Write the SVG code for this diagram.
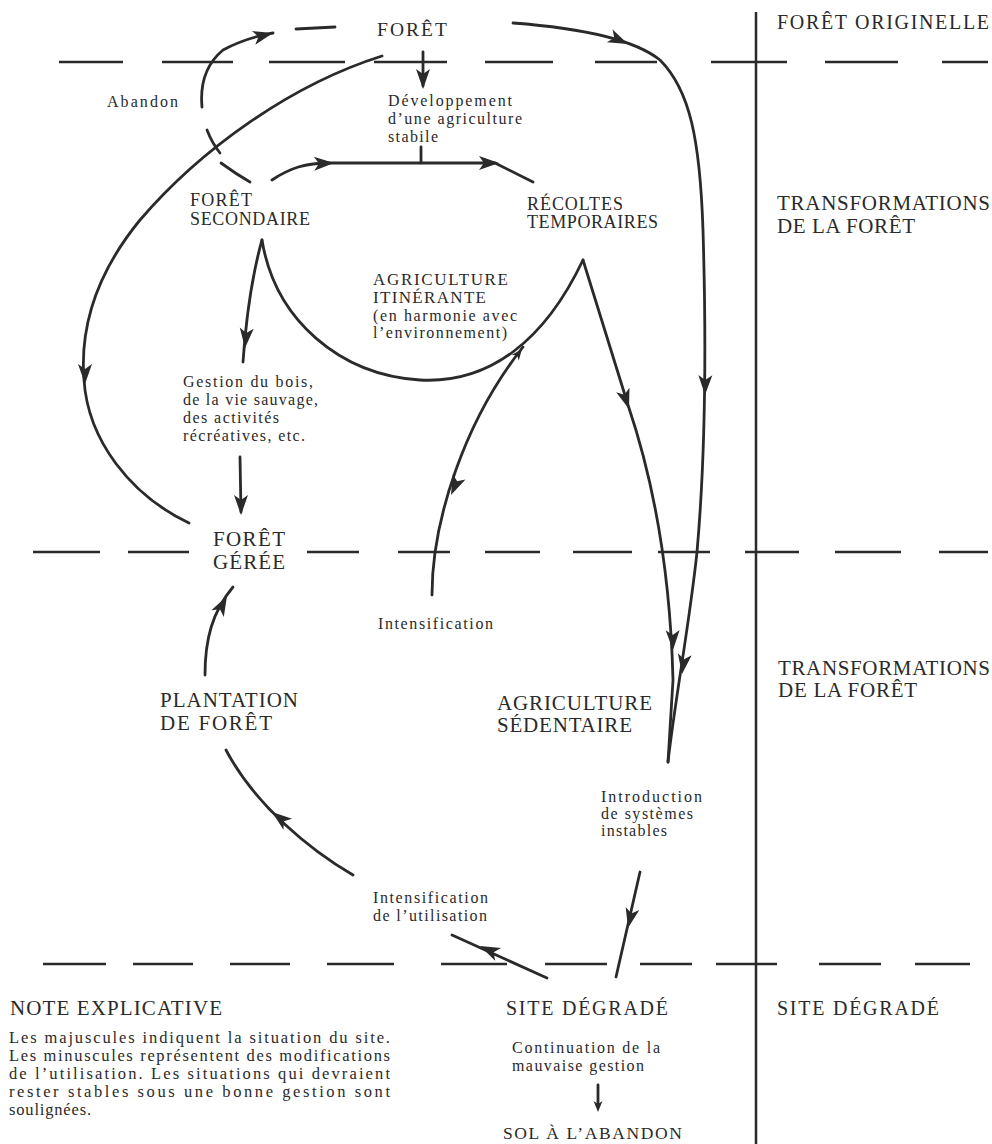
<svg xmlns="http://www.w3.org/2000/svg" xmlns:xlink="http://www.w3.org/1999/xlink" width="992" height="1144" viewBox="0 0 992 1144">
<style>
.ln{stroke:#2a2a2a;fill:none;stroke-width:2.8;stroke-linecap:round;stroke-linejoin:round}
.grid{stroke:#2a2a2a;fill:none;stroke-width:2.5}
.ah{fill:#2a2a2a}
text{font-family:"Liberation Serif","Times New Roman",serif;fill:#2a2a2a}
.s{font-size:16px}
.m{font-size:18px}
.l{font-size:21px}
</style>
<defs>
<path id="ah" d="M0 0 L-20 -7 L-15 0 L-20 7 Z"/>
<path id="ahs" d="M0 0 L-11 -4.5 L-8 0 L-11 4.5 Z"/>
</defs>
<rect width="992" height="1144" fill="#ffffff"/>

<g id="grid">
<line class="grid" x1="756" y1="12" x2="756" y2="1144"/>
<path class="grid" d="M59 62H123M162 62H233M269 62H345M374 62H447M485 62H553M595 62H657M711 62H787M825 62H898M942 62H988"/>
<path class="grid" d="M33 552H100M128 552H189M307 552H359M398 552H450M485 552H540M573 552H632M658 552H710M745 552H799M835 552H901M939 552H988"/>
<path class="grid" d="M43 964H106M133 964H193M230 964H290M327 964H394M441 964H507M545 964H607M640 964H692M716 964H777M819 964H881M915 964H970"/>
</g>

<g id="connectors">
<path class="ln" d="M250 182 Q236 174 221 163"/>
<path class="ln" d="M220 153 Q212 143 207 130"/>
<path class="ln" d="M202 107 C200 85 205 65 223 50 Q245 38 273 33"/>
<path class="ln" d="M296 29 L335 27"/>
<use xlink:href="#ah" class="ah" transform="translate(273,33) rotate(-14)"/>
<path class="ln" d="M423 52 L423 86"/>
<use xlink:href="#ah" class="ah" transform="translate(423,89) rotate(90)"/>
<path class="ln" d="M382 56 C290 85 200 150 140 220 C95 275 80 330 84 380 C88 440 130 495 189 523"/>
<use xlink:href="#ah" class="ah" transform="translate(85,384) rotate(90)"/>
<path class="ln" d="M272 180 C290 168 305 163 330 163 L495 163 L533 182"/>
<path class="ln" d="M421 147 L421 163"/>
<use xlink:href="#ah" class="ah" transform="translate(334,163) rotate(-2)"/>
<use xlink:href="#ah" class="ah" transform="translate(499,163) rotate(0)"/>
<path class="ln" d="M513 23 C580 28 635 40 660 60 C690 90 700 140 703 230 C706 330 706 450 697 552 C690 620 675 700 668 762"/>
<use xlink:href="#ah" class="ah" transform="translate(628,44) rotate(24)"/>
<use xlink:href="#ah" class="ah" transform="translate(705,395) rotate(91)"/>
<use xlink:href="#ah" class="ah" transform="translate(682,674) rotate(98)"/>
<path class="ln" d="M262 240 C275 320 340 375 420 380 C490 384 545 340 583 260"/>
<path class="ln" d="M262 240 Q248 290 243 362"/>
<use xlink:href="#ah" class="ah" transform="translate(245,348) rotate(95)"/>
<path class="ln" d="M583 260 L628 405 C650 470 670 560 673 680 L668 762"/>
<use xlink:href="#ah" class="ah" transform="translate(629,409) rotate(72)"/>
<use xlink:href="#ah" class="ah" transform="translate(673,650) rotate(89)"/>
<path class="ln" d="M432 595 C432 520 465 420 523 347"/>
<use xlink:href="#ah" class="ah" transform="translate(451,495) rotate(114)"/>
<use xlink:href="#ahs" class="ah" transform="translate(522,349) rotate(-52)"/>
<path class="ln" d="M240 457 L241 512"/>
<use xlink:href="#ah" class="ah" transform="translate(241,515) rotate(90)"/>
<path class="ln" d="M205 675 C205 640 212 612 233 587"/>
<use xlink:href="#ah" class="ah" transform="translate(227,596) rotate(-62)"/>
<path class="ln" d="M353 875 C310 850 255 805 226 750"/>
<use xlink:href="#ah" class="ah" transform="translate(272,812) rotate(-142)"/>
<path class="ln" d="M547 978 L452 935"/>
<use xlink:href="#ah" class="ah" transform="translate(480,946) rotate(-155)"/>
<path class="ln" d="M640 872 L616 977"/>
<use xlink:href="#ah" class="ah" transform="translate(628,928) rotate(103)"/>
<path class="ln" d="M598 1085 L598 1104"/>
<use xlink:href="#ahs" class="ah" transform="translate(598,1112) rotate(90)"/>
</g>

<g id="n-foret"><text x="377" y="36" font-size="19.5" textLength="70">FORÊT</text></g>
<g id="h-originelle"><text x="777" y="29" font-size="20" textLength="212">FORÊT ORIGINELLE</text></g>
<g id="l-abandon"><text class="s" x="107" y="107" textLength="71">Abandon</text></g>
<g id="l-developpement">
<text class="s" x="388" y="106" textLength="124">Développement</text>
<text class="s" x="388" y="124" textLength="134">d’une agriculture</text>
<text class="s" x="388" y="142" textLength="50">stabile</text>
</g>
<g id="n-secondaire">
<text class="m" x="190" y="206" textLength="62">FORÊT</text>
<text class="m" x="190" y="225" textLength="120">SECONDAIRE</text>
</g>
<g id="n-recoltes">
<text class="m" x="527" y="210" textLength="96">RÉCOLTES</text>
<text class="m" x="527" y="228" textLength="131">TEMPORAIRES</text>
</g>
<g id="h-transfo1">
<text class="l" x="777" y="210" textLength="213">TRANSFORMATIONS</text>
<text class="l" x="777" y="233" textLength="138">DE LA FORÊT</text>
</g>
<g id="n-itinerante">
<text x="373" y="285" font-size="17" textLength="135">AGRICULTURE</text>
<text x="373" y="303" font-size="17" textLength="113">ITINÉRANTE</text>
<text class="s" x="373" y="321" textLength="144">(en harmonie avec</text>
<text class="s" x="373" y="338" textLength="134">l’environnement)</text>
</g>
<g id="l-gestion">
<text class="s" x="183" y="387" textLength="130">Gestion du bois,</text>
<text class="s" x="183" y="405" textLength="135">de la vie sauvage,</text>
<text class="s" x="183" y="423" textLength="96">des activités</text>
<text class="s" x="183" y="441" textLength="122">récréatives, etc.</text>
</g>
<g id="n-geree">
<text class="l" x="213" y="546" textLength="72">FORÊT</text>
<text class="l" x="213" y="569" textLength="72">GÉRÉE</text>
</g>
<g id="l-intens1"><text class="s" x="378" y="629" textLength="115">Intensification</text></g>
<g id="n-plantation">
<text class="l" x="160" y="707" textLength="138">PLANTATION</text>
<text class="l" x="160" y="730" textLength="112">DE  FORÊT</text>
</g>
<g id="n-sedentaire">
<text x="497" y="710" font-size="21" textLength="155">AGRICULTURE</text>
<text x="497" y="732" font-size="21" textLength="135">SÉDENTAIRE</text>
</g>
<g id="h-transfo2">
<text class="l" x="778" y="675" textLength="212">TRANSFORMATIONS</text>
<text class="l" x="778" y="697" textLength="139">DE LA FORÊT</text>
</g>
<g id="l-introduction">
<text class="s" x="601" y="802" textLength="101">Introduction</text>
<text class="s" x="601" y="819" textLength="92">de systèmes</text>
<text class="s" x="601" y="836" textLength="66">instables</text>
</g>
<g id="l-intens2">
<text class="s" x="373" y="903" textLength="115">Intensification</text>
<text class="s" x="373" y="921" textLength="114">de l’utilisation</text>
</g>
<g id="note">
<text class="l" x="10" y="1015" textLength="212">NOTE  EXPLICATIVE</text>
<text x="9" y="1043" font-size="16.5" textLength="381">Les majuscules indiquent la situation du site.</text>
<text x="9" y="1061" font-size="16.5" textLength="381">Les minuscules représentent des modifications</text>
<text x="9" y="1079" font-size="16.5" textLength="381">de l’utilisation. Les situations qui devraient</text>
<text x="9" y="1097" font-size="16.5" textLength="381">rester stables sous une bonne gestion sont</text>
<text x="9" y="1115" font-size="16.5" textLength="82">soulignées.</text>
</g>
<g id="n-degrade"><text x="506" y="1015" font-size="20" textLength="162">SITE  DÉGRADÉ</text></g>
<g id="h-degrade"><text x="777" y="1015" font-size="20" textLength="162">SITE  DÉGRADÉ</text></g>
<g id="l-continuation">
<text class="s" x="512" y="1053" textLength="148">Continuation de la</text>
<text class="s" x="512" y="1071" textLength="132">mauvaise gestion</text>
</g>
<g id="n-sol"><text x="503" y="1139" font-size="17.5" textLength="179">SOL  À  L’ABANDON</text></g>
</svg>
